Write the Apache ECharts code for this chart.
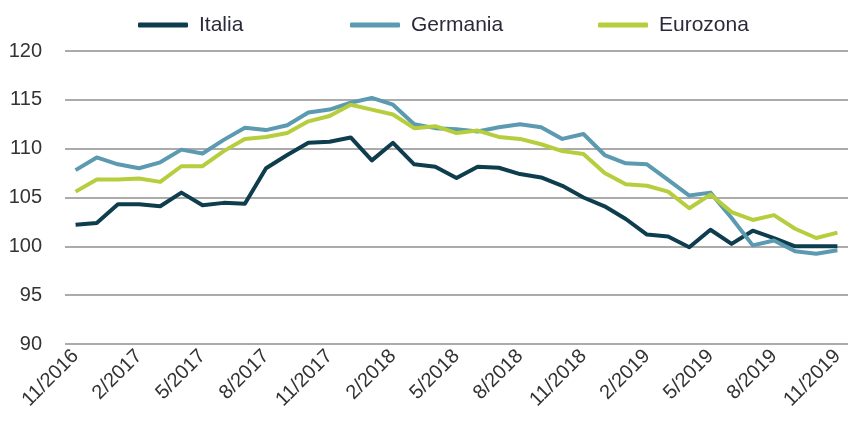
<!DOCTYPE html>
<html><head><meta charset="UTF-8">
<title>Italia Germania Eurozona</title>
<script src="https://cdn.jsdelivr.net/npm/echarts@6/dist/echarts.min.js"></script>
<style>*{margin:0;padding:0}#chart{width:848px;height:421px}</style>
</head>
<body>
<div id="chart"></div>
<script>
// mesi da 11/2016 a 11/2019
const months = ['11/2016','12/2016','1/2017','2/2017','3/2017','4/2017','5/2017','6/2017','7/2017','8/2017','9/2017','10/2017',
    '11/2017','12/2017','1/2018','2/2018','3/2018','4/2018','5/2018','6/2018','7/2018','8/2018','9/2018','10/2018',
    '11/2018','12/2018','1/2019','2/2019','3/2019','4/2019','5/2019','6/2019','7/2019','8/2019','9/2019','10/2019','11/2019'];

const italia = [102.2, 102.4, 104.3, 104.3, 104.1, 105.5, 104.2, 104.45, 104.35, 108.0, 109.35, 110.6,
    110.7, 111.15, 108.8, 110.6, 108.4, 108.15, 107.0, 108.15, 108.05, 107.4, 107.05, 106.2,
    105.0, 104.1, 102.8, 101.2, 101.0, 99.9, 101.7, 100.25, 101.6, 100.85, 100.0, 100.0, 100.0];

const germania = [107.8, 109.1, 108.4, 108.0, 108.6, 109.9, 109.5, 110.9, 112.15, 111.9, 112.4, 113.7,
    114.0, 114.7, 115.2, 114.5, 112.5, 112.1, 112.0, 111.75, 112.2, 112.5, 112.2, 111.0,
    111.5, 109.35, 108.5, 108.4, 106.8, 105.2, 105.5, 102.9, 100.1, 100.6, 99.5, 99.25, 99.6];

const eurozona = [105.6, 106.85, 106.85, 106.95, 106.6, 108.2, 108.2, 109.75, 111.0, 111.2, 111.6, 112.8,
    113.35, 114.5, 114.0, 113.5, 112.1, 112.3, 111.6, 111.85, 111.2, 111.0, 110.45, 109.75,
    109.45, 107.5, 106.35, 106.2, 105.6, 103.9, 105.3, 103.5, 102.7, 103.2, 101.8, 100.85, 101.4];

const names = ['Italia', 'Germania', 'Eurozona'];
const colors = ['#0e3d4d', '#5b9ab0', '#b6cd3d'];
const legendLeft = [138, 350, 598];

const chart = echarts.init(document.getElementById('chart'));

// una legenda per voce, cosi' le posizioni restano fisse
function makeLegend(i) {
    return {
        data: [names[i]],
        left: legendLeft[i],
        top: 13,
        padding: 0,
        icon: 'roundRect',
        itemWidth: 50,
        itemHeight: 5,
        textStyle: {
            fontFamily: 'Liberation Sans Narrow, Liberation Sans, sans-serif',
            fontSize: 21,
            lineHeight: 24,
            color: '#2a2a3a',
            padding: [0, 0, 0, 6]
        }
    };
}

chart.setOption({
    animation: false,
    legend: [makeLegend(0), makeLegend(1), makeLegend(2)],
    grid: { left: 65, right: -8.4, top: 51, bottom: 77 },
    xAxis: {
        type: 'category',
        data: months,
        boundaryGap: true,
        axisLine: { show: false },
        axisTick: { show: false },
        axisLabel: {
            interval: 2,
            rotate: 45,
            margin: 9,
            fontFamily: 'Liberation Sans, Arial, sans-serif',
            fontSize: 20,
            color: '#333'
        }
    },
    yAxis: {
        type: 'value',
        min: 90,
        max: 120,
        interval: 5,
        axisLine: { show: false },
        axisTick: { show: false },
        axisLabel: {
            margin: 23,
            fontFamily: 'Liberation Sans, Arial, sans-serif',
            fontSize: 20,
            color: '#333'
        },
        splitLine: { lineStyle: { color: '#ababab', width: 2 } }
    },
    series: [italia, germania, eurozona].map((vals, i) => ({
        name: names[i],
        type: 'line',
        data: vals,
        symbol: 'none',
        color: colors[i],
        lineStyle: { width: 4, color: colors[i], join: 'round' },
        z: 3 + i
    }))
});
</script>
</body></html>
